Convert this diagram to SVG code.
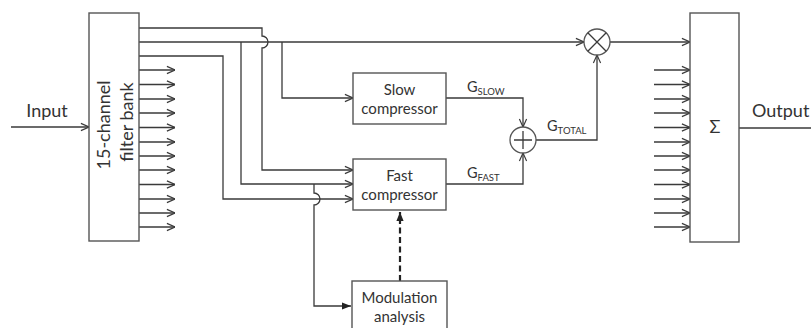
<svg xmlns="http://www.w3.org/2000/svg" width="811" height="328" viewBox="0 0 811 328">
<defs>
<marker id="open" viewBox="0 0 10 10" refX="10" refY="5" markerWidth="9" markerHeight="10" markerUnits="userSpaceOnUse" orient="auto">
<path d="M1,1 L10,5 L1,9" fill="none" stroke="#3a3a3a" stroke-width="1.3"/>
</marker>
<marker id="filled" viewBox="0 0 10 10" refX="10" refY="5" markerWidth="9" markerHeight="9" markerUnits="userSpaceOnUse" orient="auto">
<path d="M0,1 L10,5 L0,9 z" fill="#222"/>
</marker>
<style>
.box{fill:#fff;stroke:#555;stroke-width:1.4}
.ln{fill:none;stroke:#3a3a3a;stroke-width:1.3}
.arr{marker-end:url(#open)}
.t{font-family:Lato,"Open Sans","Liberation Sans",sans-serif;font-size:15px;fill:#333;text-anchor:middle}
.big{font-size:18px}
.g{font-family:Lato,"Open Sans","Liberation Sans",sans-serif;font-size:14.5px;fill:#333}
.sub{font-size:9.5px}
</style>
</defs>
<g id="connectors">
<path class="ln arr" d="M11,127 H89"/>
<path class="ln" d="M739,128 H811"/>
<path class="ln arr" d="M139,28 H262 V36 a6,6 0 0 1 0,12 V170 H353"/>
<path class="ln arr" d="M139,42 H584"/>
<path class="ln arr" d="M241,42 V184 H353"/>
<path class="ln arr" d="M282,42 V98 H353"/>
<path class="ln arr" d="M139,56 H223 V199 H353"/>
<path class="ln" d="M314,184 V193 a6,6 0 0 1 0,12 V306 H351" marker-end="url(#filled)"/>
<path d="M400,281 V212" fill="none" stroke="#222" stroke-width="2.2" stroke-dasharray="6,3.5" marker-end="url(#filled)"/>
<path class="ln arr" d="M446,98 H523 V127"/>
<path class="ln arr" d="M446,184 H523 V153"/>
<path class="ln arr" d="M536,140 H597 V55"/>
<path class="ln arr" d="M610,42 H690"/>
<g class="ln arr">
<path d="M139,70 H175"/><path d="M139,84.5 H175"/><path d="M139,99 H175"/><path d="M139,113 H175"/>
<path d="M139,127.5 H175"/><path d="M139,142 H175"/><path d="M139,156 H175"/><path d="M139,170 H175"/>
<path d="M139,184.5 H175"/><path d="M139,199 H175"/><path d="M139,213 H175"/><path d="M139,227 H175"/>
<path d="M654,70 H690"/><path d="M654,84.5 H690"/><path d="M654,99 H690"/><path d="M654,113 H690"/>
<path d="M654,127.5 H690"/><path d="M654,142 H690"/><path d="M654,156 H690"/><path d="M654,170 H690"/>
<path d="M654,184.5 H690"/><path d="M654,199 H690"/><path d="M654,213 H690"/><path d="M654,227 H690"/>
</g>
</g>
<text class="t big" x="47" y="117">Input</text>
<text class="t big" x="752" y="117" style="text-anchor:start">Output</text>
<g id="filterbank">
<rect class="box" x="89" y="13" width="50" height="228"/>
<text class="t big" transform="translate(110,125) rotate(-90)">15-channel</text>
<text class="t big" transform="translate(133,122) rotate(-90)">filter bank</text>
</g>
<g id="slow">
<rect class="box" x="353" y="73" width="93" height="51"/>
<text class="t" x="399.5" y="95">Slow</text>
<text class="t" x="399.5" y="114">compressor</text>
</g>
<g id="fast">
<rect class="box" x="353" y="159" width="93" height="51"/>
<text class="t" x="399.5" y="181">Fast</text>
<text class="t" x="399.5" y="200">compressor</text>
</g>
<g id="modulation">
<rect class="box" x="352" y="281" width="95" height="52"/>
<text class="t" x="399.5" y="303">Modulation</text>
<text class="t" x="399.5" y="322">analysis</text>
</g>
<g id="sum">
<circle cx="523" cy="140" r="13" fill="#fff" stroke="#555" stroke-width="1.3"/>
<path class="ln" d="M514,140 H532 M523,131 V149"/>
</g>
<g id="multiplier">
<circle cx="597" cy="42" r="13" fill="#fff" stroke="#555" stroke-width="1.3"/>
<path class="ln" d="M587.8,32.8 L606.2,51.2 M606.2,32.8 L587.8,51.2"/>
</g>
<g id="sigma">
<rect class="box" x="690" y="13" width="49" height="229"/>
<text class="t big" x="715" y="133">Σ</text>
</g>
<g id="labels">
<text class="g" x="467" y="92">G<tspan class="sub" dy="3">SLOW</tspan></text>
<text class="g" x="467" y="178">G<tspan class="sub" dy="3">FAST</tspan></text>
<text class="g" x="547" y="131">G<tspan class="sub" dy="3">TOTAL</tspan></text>
</g>
</svg>
